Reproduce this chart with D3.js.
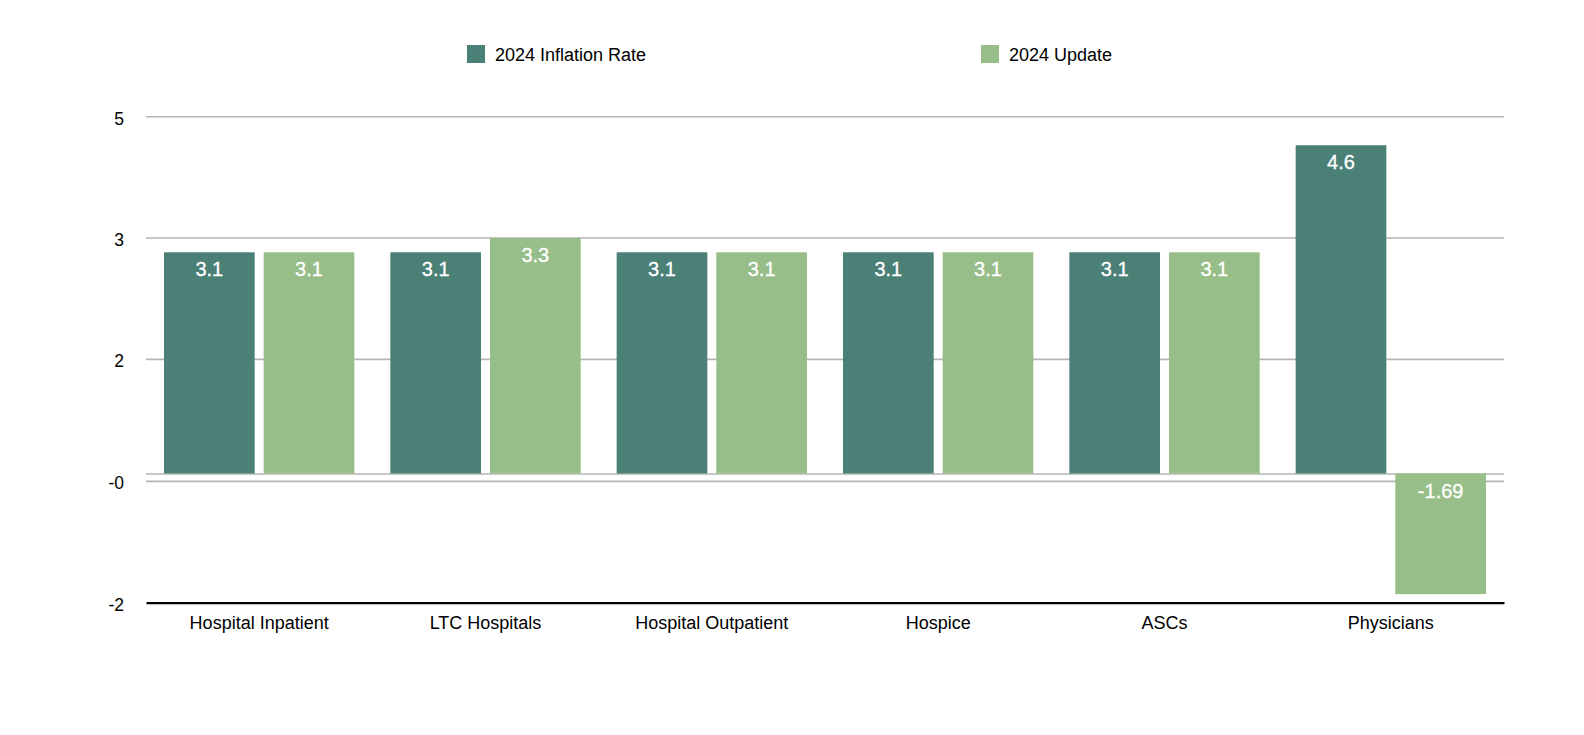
<!DOCTYPE html>
<html>
<head>
    <title>2024 Inflation Rate vs 2024 Update</title>
    <script src="https://d3js.org/d3.v7.min.js"></script>
    <style>
        body {
            margin: 0;
            background-color: #FFFFFF;
            font-family: "Liberation Sans", Arial, Helvetica, sans-serif;
        }
        .grid line {
            stroke: #b5b5b5;
            stroke-width: 1.6px;
        }
    </style>
</head>
<body>
    <div id="chart"></div>

    <script>
        // Chart data
        var categories = ["Hospital Inpatient", "LTC Hospitals", "Hospital Outpatient", "Hospice", "ASCs", "Physicians"];
        var seriesNames = ["2024 Inflation Rate", "2024 Update"];
        var inflationRate = [3.1, 3.1, 3.1, 3.1, 3.1, 4.6];
        var update2024 = [3.1, 3.3, 3.1, 3.1, 3.1, -1.69];
        var tickValues = [-1.81, -0.11, 1.60, 3.30, 5.00];
        var tickLabels = ["-2", "-0", "2", "3", "5"];
        var colors = ["#4b8076", "#97bd88"];

        var width = 1584, height = 735;
        var plotLeft = 146, plotRight = 1504, plotTop = 116.7, plotBottom = 602.7;

        var svg = d3.select("#chart")
            .append("svg")
            .attr("width", width)
            .attr("height", height);

        // Scales
        var x0 = d3.scaleBand()
            .domain(categories)
            .range([plotLeft, plotRight]);

        var x1 = d3.scaleBand()
            .domain(seriesNames)
            .range([18, x0.bandwidth() - 18])
            .paddingInner(0.09);

        var y = d3.scaleLinear()
            .domain([tickValues[0], tickValues[tickValues.length - 1]])
            .range([plotBottom, plotTop]);

        // Grid lines
        svg.append("g")
            .attr("class", "grid")
            .selectAll("line")
            .data(tickValues.slice(1))
            .join("line")
            .attr("x1", plotLeft)
            .attr("x2", plotRight)
            .attr("y1", d => y(d))
            .attr("y2", d => y(d));

        // Zero line
        svg.append("line")
            .attr("x1", plotLeft)
            .attr("x2", plotRight)
            .attr("y1", y(0) + 0.5)
            .attr("y2", y(0) + 0.5)
            .attr("stroke", "#b5b5b5")
            .attr("stroke-width", 1.6);

        // Y axis labels
        var yAxis = svg.append("g")
            .attr("transform", "translate(124,0)")
            .call(d3.axisLeft(y)
                .tickValues(tickValues)
                .tickSize(0)
                .tickPadding(0)
                .tickFormat((d, i) => tickLabels[i]));
        yAxis.select(".domain").remove();
        yAxis.selectAll("text")
            .attr("dy", "0.36em")
            .attr("y", 1)
            .style("font-family", "Liberation Sans, Arial, sans-serif")
            .style("font-size", "17.5px")
            .style("fill", "#000");

        // Bars
        var rows = categories.map(function (c, i) {
            return { cat: c, values: [inflationRate[i], update2024[i]] };
        });

        var groups = svg.append("g")
            .selectAll("g")
            .data(rows)
            .join("g")
            .attr("transform", d => "translate(" + x0(d.cat) + ",0)");

        var cells = groups.selectAll("g")
            .data(d => d.values.map((v, j) => ({ name: seriesNames[j], value: v, idx: j })))
            .join("g");

        cells.append("rect")
            .attr("x", d => x1(d.name))
            .attr("width", x1.bandwidth())
            .attr("y", d => d.value >= 0 ? y(d.value) : y(0))
            .attr("height", d => Math.abs(y(d.value) - y(0)))
            .attr("fill", d => colors[d.idx]);

        cells.append("text")
            .attr("x", d => x1(d.name) + x1.bandwidth() / 2)
            .attr("y", d => (d.value >= 0 ? y(d.value) : y(0)) + 24)
            .attr("text-anchor", "middle")
            .style("font-size", "20px")
            .style("fill", "#ffffff")
            .style("stroke", "#ffffff")
            .style("stroke-width", "0.3px")
            .text(d => d.value);

        // X axis
        var xAxis = svg.append("g")
            .attr("transform", "translate(0," + plotBottom + ")")
            .call(d3.axisBottom(x0).tickSize(0).tickPadding(0));
        xAxis.select(".domain")
            .attr("stroke", "#000")
            .attr("stroke-width", 2.2);
        xAxis.selectAll("text")
            .attr("dy", 0)
            .attr("y", 26)
            .style("font-family", "Liberation Sans, Arial, sans-serif")
            .style("font-size", "18px")
            .style("fill", "#000");

        // Legend
        var legendX = [467, 981];
        var legend = svg.append("g")
            .selectAll("g")
            .data(seriesNames)
            .join("g")
            .attr("transform", (d, i) => "translate(" + legendX[i] + ",45)");

        legend.append("rect")
            .attr("width", 18)
            .attr("height", 18)
            .attr("fill", (d, i) => colors[i]);

        legend.append("text")
            .attr("x", 28)
            .attr("y", 15.5)
            .style("font-size", "18px")
            .style("fill", "#000")
            .text(d => d);
    </script>
</body>
</html>
